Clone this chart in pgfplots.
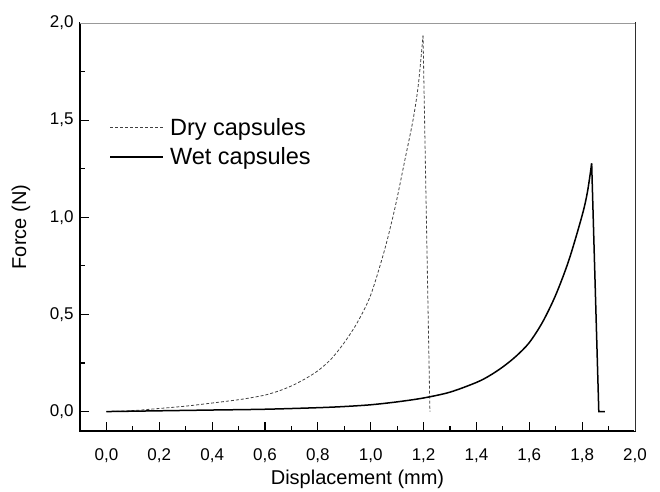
\documentclass[border=0pt]{standalone}
\usepackage{pgfplots}
\pgfplotsset{compat=1.18}
\usepackage{fontspec}
\setmainfont{Liberation Sans}
\begin{document}
\begin{tikzpicture}
\begin{axis}[
  name=ax,
  scale only axis,
  width=555pt, height=408pt,
  xmin=-0.1, xmax=2.0, ymin=-0.1, ymax=2.0,
  axis line style={black, line width=1.2pt},
  xtick pos=bottom, ytick pos=left,
  xtick={0,0.2,...,2.01}, ytick={0,0.5,...,2.01},
  minor x tick num=1, minor y tick num=1,
  tick align=inside,
  major tick length=9pt, minor tick length=5pt,
  tick style={black, line width=1.2pt},
  /pgf/number format/assume math mode=true,
  /pgf/number format/use comma,
  /pgf/number format/fixed,
  /pgf/number format/fixed zerofill,
  /pgf/number format/precision=1,
  tick label style={font=\fontsize{17}{20}\selectfont},
  xticklabel shift=14pt,
  yticklabel shift=3pt,
  label style={font=\fontsize{20}{24}\selectfont},
  xlabel={Displacement (mm)},
  ylabel={Force (N)},
  xlabel style={at={(axis description cs:0.5,0)}, anchor=center, yshift=-48pt},
  ylabel style={at={(axis description cs:0,0.5)}, anchor=center, yshift=59pt},
  legend cell align=left,
  legend style={draw=none, fill=none, at={(0.053,0.77)}, anchor=north west,
    font=\fontsize{23.5}{26}\selectfont, row sep=9pt, inner sep=0pt,
    nodes={inner xsep=6pt, inner ysep=1pt}},
  legend image code/.code={\draw[#1] (0pt,0pt) -- (53pt,0pt);},
]
\draw[white, line width=2.4pt] (rel axis cs:0,1) -- (rel axis cs:1,1) -- (rel axis cs:1,0);
\draw[gray!80, line width=0.8pt] (rel axis cs:0,1) -- (rel axis cs:1,1) -- (rel axis cs:1,0);
\addplot[color=black!75, line width=0.8pt, dash pattern=on 3pt off 2pt, smooth] coordinates {
(0,0) (0.1,0.005) (0.2,0.016) (0.3,0.028) (0.4,0.044) (0.5,0.061) (0.55,0.072) (0.6,0.085)
(0.65,0.105) (0.7,0.132) (0.75,0.167) (0.8,0.21) (0.85,0.27) (0.9,0.355)
(0.95,0.46) (1.0,0.60) (1.05,0.82) (1.08,0.98) (1.1,1.10) (1.13,1.30) (1.16,1.50)
(1.18,1.68) (1.198,1.935)
};
\addlegendentry{Dry capsules}
\addplot[color=black!75, line width=0.8pt, dash pattern=on 3pt off 2pt, forget plot] coordinates {
(1.198,1.935) (1.224,0.0)
};
\addplot[color=black, line width=1.5pt, smooth] coordinates {
(0,0) (0.2,0.004) (0.4,0.008) (0.6,0.012) (0.8,0.02) (0.9,0.026) (1.0,0.035) (1.1,0.05)
(1.2,0.07) (1.3,0.10) (1.4,0.15) (1.45,0.185) (1.5,0.23) (1.55,0.285) (1.6,0.355)
(1.65,0.46) (1.7,0.60) (1.75,0.78) (1.8,1.01) (1.82,1.13) (1.836,1.277)
};
\addlegendentry{Wet capsules}
\addplot[color=black, line width=1.5pt, forget plot] coordinates {
(1.836,1.277) (1.863,0.0) (1.886,0.0)
};
\end{axis}
\path ([shift={(-80pt,-59pt)}]ax.south west) rectangle ([shift={(25pt,23pt)}]ax.north east);
\end{tikzpicture}
\end{document}
